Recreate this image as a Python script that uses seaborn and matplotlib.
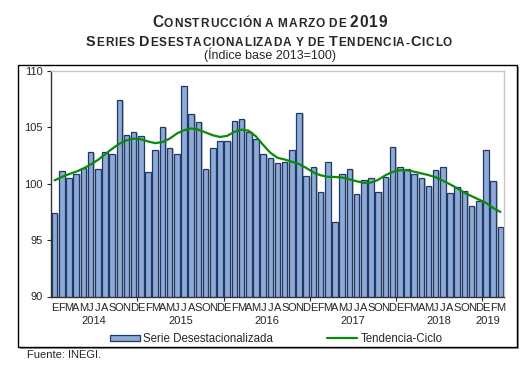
import numpy as np
import pandas as pd
import matplotlib
matplotlib.use("Agg")
import matplotlib.pyplot as plt
import matplotlib.patheffects as pe
from matplotlib.font_manager import FontProperties
from matplotlib.patches import Patch, Rectangle
from matplotlib.lines import Line2D
import seaborn as sns

# Datos (índice base 2013=100), enero 2014 - marzo 2019
letras_mes = ["E", "F", "M", "A", "M", "J", "J", "A", "S", "O", "N", "D"]
anios = ["2014", "2015", "2016", "2017", "2018", "2019"]

serie = [97.4, 101.1, 100.5, 100.9, 101.4, 102.8, 101.3, 102.8, 102.6, 107.4, 104.3, 104.6,
         104.2, 101.0, 103.0, 105.0, 103.2, 102.6, 108.7, 106.2, 105.5, 101.3, 103.2, 103.8,
         103.8, 105.6, 105.7, 104.6, 104.0, 102.6, 102.3, 101.8, 101.9, 103.0, 106.3, 100.7,
         101.5, 99.3, 101.9, 96.6, 100.9, 101.3, 99.1, 100.3, 100.5, 99.3, 100.6, 103.3,
         101.5, 101.3, 100.9, 100.5, 99.8, 101.2, 101.5, 99.2, 99.7, 99.4, 98.0, 98.5,
         103.0, 100.2, 96.2]

tendencia = [100.3, 100.6, 100.85, 101.07, 101.35, 101.7, 102.1, 102.6, 103.1, 103.55, 103.85, 104.0,
             103.95, 103.75, 103.6, 103.7, 104.0, 104.45, 104.75, 104.9, 104.8, 104.55, 104.3, 104.15,
             104.25, 104.6, 104.8, 104.7, 104.2, 103.45, 102.75, 102.3, 102.15, 101.95, 101.75, 101.4,
             101.0, 100.75, 100.62, 100.6, 100.55, 100.4, 100.22, 100.08, 100.1, 100.35, 100.75, 101.05,
             101.2, 101.2, 101.07, 100.92, 100.77, 100.57, 100.27, 99.95, 99.6, 99.2, 98.9, 98.6,
             98.3, 97.85, 97.5]

n = len(serie)
meses = [letras_mes[i % 12] for i in range(n)]
df = pd.DataFrame({"pos": np.arange(n), "serie": serie, "tendencia": tendencia})

color_barra = "#8eaad8"
borde_barra = "#1f3a63"
verde = "#0a8a0a"

##########################################################

sns.set_style("white")
plt.rcParams["font.family"] = ["Liberation Sans", "DejaVu Sans"]

W, H = 529, 371
fig = plt.figure(figsize=(W / 100, H / 100), dpi=100)
ax = fig.add_axes([51 / W, 1 - 296.5 / H, (504 - 51) / W, (296.5 - 71) / H])

sns.barplot(data=df, x="pos", y="serie", color=color_barra, saturation=1,
            width=0.77, edgecolor=borde_barra, linewidth=0.9, ax=ax)
for p in ax.patches:
    p.set_path_effects([pe.SimplePatchShadow(offset=(1.2, -0.6), shadow_rgbFace="#c4c4c4", alpha=1),
                        pe.Normal()])
sns.lineplot(data=df, x="pos", y="tendencia", color=verde, linewidth=1.6, ax=ax)

ax.set_ylim(90, 110)
ax.set_xlim(-0.5, n - 0.5)
ax.set_yticks([90, 95, 100, 105, 110])
ax.tick_params(axis="y", direction="out", length=3, width=0.8, pad=3, labelsize=8, left=True)
ax.set_xticks(np.arange(n))
ax.set_xticklabels(meses, fontsize=8)
ax.tick_params(axis="x", which="major", length=0, pad=5)
ax.set_xticks(np.arange(11.5, n, 12), minor=True)
ax.tick_params(axis="x", which="minor", direction="out", length=3, width=0.8, bottom=True)
ax.set_xlabel("")
ax.set_ylabel("")

# años debajo de los meses
for k, a in enumerate(anios):
    xc = k * 12 + 5.5 if a != "2019" else 60.3
    ax.text(xc, -0.11, a, transform=ax.get_xaxis_transform(), ha="center", va="center", fontsize=8)

for lado in ["top", "right"]:
    ax.spines[lado].set_color("#c8c8c8")
    ax.spines[lado].set_linewidth(1)
for lado in ["left", "bottom"]:
    ax.spines[lado].set_color("#333333")
    ax.spines[lado].set_linewidth(1)

# marco exterior con sombra
fig.patches.append(Rectangle((20 / W, 1 - 349 / H), 499 / W, 282 / H, transform=fig.transFigure,
                             facecolor="#9a9a9a", edgecolor="none", zorder=-2))
fig.patches.append(Rectangle((18 / W, 1 - 347 / H), 499 / W, 282 / H, transform=fig.transFigure,
                             facecolor="white", edgecolor="black", linewidth=1, zorder=-1))

# leyenda
handles = [Patch(facecolor=color_barra, edgecolor=borde_barra, linewidth=0.9),
           Line2D([], [], color=verde, linewidth=1.6)]
fig.legend(handles, ["Serie Desestacionalizada", "Tendencia-Ciclo"], loc="center",
           bbox_to_anchor=(276 / W, 1 - 339 / H), ncol=2, frameon=False, fontsize=8.3,
           handlelength=2.6, handleheight=0.5, handletextpad=0.3, columnspacing=4.7)

fig.text(27 / W, 1 - 355 / H, "Fuente: INEGI.", fontsize=8, va="center", ha="left")


def titulo_versalitas(texto, y_px, grande, chica, ancho_total, cx_px=269):
    """Dibuja un título en versalitas, letra por letra, con el ancho total indicado"""
    renderer = fig.canvas.get_renderer()
    fp_g = FontProperties(family="Liberation Sans", weight="bold", size=grande)
    fp_c = FontProperties(family="Liberation Sans", weight="bold", size=chica)

    def ancho(s, fp):
        return renderer.get_text_width_height_descent(s, fp, ismath=False)[0]

    espacio = ancho("A A", fp_c) - ancho("AA", fp_c)
    letras = []
    for c in texto:
        if c == " ":
            letras.append((None, espacio, None))
        else:
            fp = fp_g if (c.isupper() or c.isdigit()) else fp_c
            letras.append((c.upper(), ancho(c.upper(), fp), fp))
    natural = sum(w for _, w, _ in letras)
    extra = (ancho_total - natural) / (len(letras) - 1)
    x = cx_px - ancho_total / 2
    for s, w, fp in letras:
        if s is not None:
            fig.text(x / W, 1 - y_px / H, s, fontproperties=fp, va="baseline", ha="left")
        x += w + extra


titulo_versalitas("Construcción a marzo de 2019", 27, 11.2, 8.6, 235, cx_px=269.5)
titulo_versalitas("Series Desestacionalizada y de Tendencia-Ciclo", 46.5, 10.4, 8.5, 366, cx_px=269)
fig.text(269.5 / W, 1 - 59.5 / H, "(Índice base 2013=100)", fontsize=9, ha="center", va="baseline")

fig.savefig("out.png", dpi=100)
